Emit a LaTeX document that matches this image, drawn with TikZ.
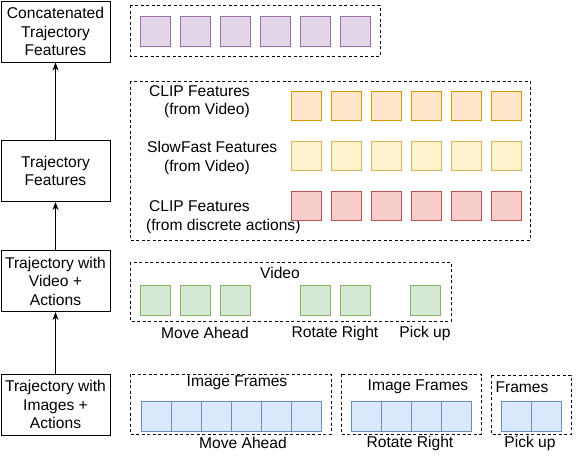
\documentclass[tikz,border=0pt]{standalone}
\usepackage{fontspec}
\setmainfont{Liberation Sans}
\usepackage{tikz}
\usetikzlibrary{arrows.meta}
\usepackage{xcolor}

\definecolor{purpfill}{HTML}{E1D5E7}\definecolor{purpline}{HTML}{9673A6}
\definecolor{orfill}{HTML}{FFE6CC}\definecolor{orline}{HTML}{D79B00}
\definecolor{yelfill}{HTML}{FFF2CC}\definecolor{yelline}{HTML}{D6B656}
\definecolor{redfill}{HTML}{F8CECC}\definecolor{redline}{HTML}{B85450}
\definecolor{grfill}{HTML}{D5E8D4}\definecolor{grline}{HTML}{82B366}
\definecolor{blfill}{HTML}{DAE8FC}\definecolor{blline}{HTML}{6C8EBF}

\begin{document}
\begin{tikzpicture}[x=1pt, y=-1pt,
    every node/.style={font=\fontsize{15.6}{18.5}\selectfont, inner sep=0pt},
    stage/.style={draw, line width=1pt, align=center, minimum width=109pt, minimum height=61pt},
    grp/.style={draw, dashed, dash pattern=on 3pt off 2.5pt, line width=0.8pt},
    cell/.style={line width=0.9pt},
    arr/.style={-{Stealth[length=8pt,width=6pt]}, line width=1pt}]

  \useasboundingbox (0,0) rectangle (581,461);

  % Левая колонка
  \node[stage] (concat) at (55.5,31.5) {Concatenated\\Trajectory\\Features};
  \node[stage] (feat) at (55.5,171) {Trajectory\\Features};
  \node[stage] (video) at (55.5,281) {Trajectory with\\Video +\\Actions};
  \node[stage] (images) at (55.5,404.5) {Trajectory with\\Images +\\Actions};

  \draw[arr] (images) -- (video);
  \draw[arr] (video) -- (feat);
  \draw[arr] (feat) -- (concat);

  % Склеенные признаки
  \draw[grp] (130,5) rectangle (380,56);
  \foreach \x in {140,180,...,340}
    \draw[cell, fill=purpfill, draw=purpline] (\x,16) rectangle +(30,30);

  % Признаки
  \draw[grp] (130,81) rectangle (530,240);
  \node[anchor=west, align=left] (clipvid) at (149,101.5) {CLIP Features\\\hspace*{15pt}(from Video)};
  \node[anchor=west, align=left] (slowfast) at (147,158) {SlowFast Features\\\hspace*{17pt}(from Video)};
  \node[anchor=west, align=left] (clipact) at (146,217) {\hspace*{3pt}CLIP Features\\(from discrete actions)};
  \foreach \x in {291,331,...,491} {
    \draw[cell, fill=orfill, draw=orline] (\x,91) rectangle +(30,29.5);
    \draw[cell, fill=yelfill, draw=yelline] (\x,141) rectangle +(30,29.5);
    \draw[cell, fill=redfill, draw=redline] (\x,191) rectangle +(30,29.5);
  }

  % Видео
  \draw[grp] (130,262) rectangle (451,321);
  \node (vidlbl) at (280,273) {Video};
  \foreach \x in {140,180,220,300,340,410}
    \draw[cell, fill=grfill, draw=grline] (\x,285.5) rectangle +(30,30);
  \node (vmove) at (205,333) {Move Ahead};
  \node (vrot) at (335,333) {Rotate Right};
  \node (vpick) at (425,333) {Pick up};

  % Кадры
  \draw[grp] (130,374) rectangle (331,434);
  \draw[grp] (341,374) rectangle (481,434);
  \draw[grp] (491,375) rectangle (571,434);
  \node (imgA) at (237,383) {Image Frames};
  \node (imgB) at (418,387) {Image Frames};
  \node (imgC) at (522,387) {Frames};
  \foreach \x in {141,171,...,291}
    \draw[cell, fill=blfill, draw=blline] (\x,401) rectangle +(30,30);
  \foreach \x in {351,381,...,441}
    \draw[cell, fill=blfill, draw=blline] (\x,401) rectangle +(30,30);
  \foreach \x in {501,531}
    \draw[cell, fill=blfill, draw=blline] (\x,401) rectangle +(30,30);
  \node (imove) at (243,443) {Move Ahead};
  \node (irot) at (410,443) {Rotate Right};
  \node (ipick) at (530,443) {Pick up};

\end{tikzpicture}
\end{document}
